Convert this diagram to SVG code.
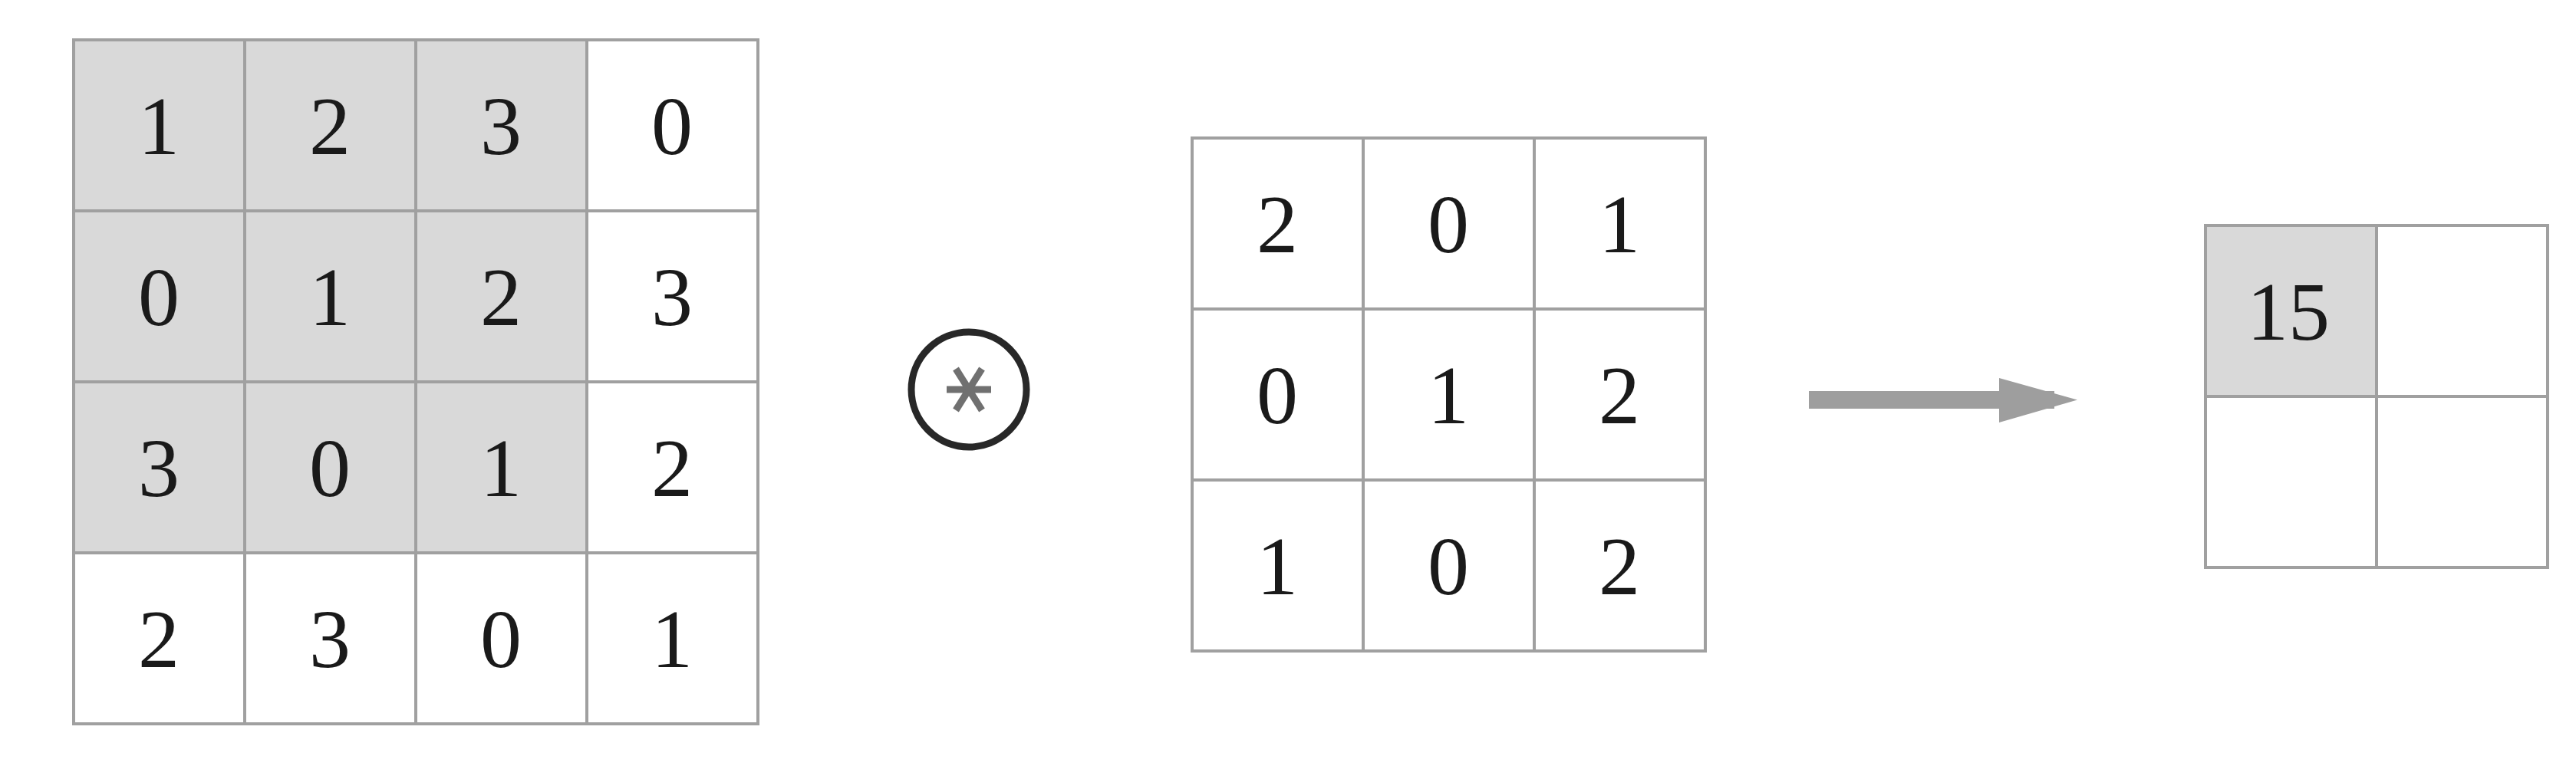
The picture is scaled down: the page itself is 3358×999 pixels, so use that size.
<svg xmlns="http://www.w3.org/2000/svg" width="3358" height="999" viewBox="0 0 3358 999">
<style>
.cell{fill:#ffffff;stroke:#a0a0a0;stroke-width:4}
.hl{fill:#d9d9d9;stroke:#a0a0a0;stroke-width:4}
.num{font-family:"Liberation Serif","DejaVu Serif",serif;font-size:108px;fill:#1a1a1a;text-anchor:middle}
</style>
<defs>
<marker id="ah" viewBox="0 0 103 58" refX="103" refY="29" markerUnits="userSpaceOnUse" markerWidth="103" markerHeight="58" orient="auto">
<path d="M0,0 L103,29 L0,58 Z" fill="#9e9e9e"/>
</marker>
</defs>
<rect width="3358" height="999" fill="#ffffff"/>
<g id="input">
<rect class="hl" x="96" y="52" width="223" height="223"/>
<rect class="hl" x="319" y="52" width="223" height="223"/>
<rect class="hl" x="542" y="52" width="223" height="223"/>
<rect class="cell" x="765" y="52" width="223" height="223"/>
<rect class="hl" x="96" y="275" width="223" height="223"/>
<rect class="hl" x="319" y="275" width="223" height="223"/>
<rect class="hl" x="542" y="275" width="223" height="223"/>
<rect class="cell" x="765" y="275" width="223" height="223"/>
<rect class="hl" x="96" y="498" width="223" height="223"/>
<rect class="hl" x="319" y="498" width="223" height="223"/>
<rect class="hl" x="542" y="498" width="223" height="223"/>
<rect class="cell" x="765" y="498" width="223" height="223"/>
<rect class="cell" x="96" y="721" width="223" height="223"/>
<rect class="cell" x="319" y="721" width="223" height="223"/>
<rect class="cell" x="542" y="721" width="223" height="223"/>
<rect class="cell" x="765" y="721" width="223" height="223"/>
<text class="num" x="207" y="201">1</text>
<text class="num" x="430" y="201">2</text>
<text class="num" x="653" y="201">3</text>
<text class="num" x="876" y="201">0</text>
<text class="num" x="207" y="424">0</text>
<text class="num" x="430" y="424">1</text>
<text class="num" x="653" y="424">2</text>
<text class="num" x="876" y="424">3</text>
<text class="num" x="207" y="647">3</text>
<text class="num" x="430" y="647">0</text>
<text class="num" x="653" y="647">1</text>
<text class="num" x="876" y="647">2</text>
<text class="num" x="207" y="870">2</text>
<text class="num" x="430" y="870">3</text>
<text class="num" x="653" y="870">0</text>
<text class="num" x="876" y="870">1</text>
</g>
<g id="operator">
<circle cx="1263" cy="508" r="75" fill="#ffffff" stroke="#282828" stroke-width="9"/>
<g stroke="#707070" stroke-width="9">
<line x1="1234" y1="508" x2="1292" y2="508"/>
<line x1="1246" y1="481" x2="1280" y2="535"/>
<line x1="1280" y1="481" x2="1246" y2="535"/>
</g>
</g>
<g id="kernel">
<rect class="cell" x="1554" y="180" width="223" height="223"/>
<rect class="cell" x="1777" y="180" width="223" height="223"/>
<rect class="cell" x="2000" y="180" width="223" height="223"/>
<rect class="cell" x="1554" y="403" width="223" height="223"/>
<rect class="cell" x="1777" y="403" width="223" height="223"/>
<rect class="cell" x="2000" y="403" width="223" height="223"/>
<rect class="cell" x="1554" y="626" width="223" height="223"/>
<rect class="cell" x="1777" y="626" width="223" height="223"/>
<rect class="cell" x="2000" y="626" width="223" height="223"/>
<text class="num" x="1665" y="329">2</text>
<text class="num" x="1888" y="329">0</text>
<text class="num" x="2111" y="329">1</text>
<text class="num" x="1665" y="552">0</text>
<text class="num" x="1888" y="552">1</text>
<text class="num" x="2111" y="552">2</text>
<text class="num" x="1665" y="775">1</text>
<text class="num" x="1888" y="775">0</text>
<text class="num" x="2111" y="775">2</text>
</g>
<g id="connectors">
<line x1="2358" y1="521.5" x2="2678" y2="521.5" stroke="#9e9e9e" stroke-width="23"/>
<path d="M2606,493 L2708,521.5 L2606,551 Z" fill="#9e9e9e"/>
</g>
<g id="output">
<rect class="hl" x="2875" y="294" width="223" height="223"/>
<rect class="cell" x="3098" y="294" width="223" height="223"/>
<rect class="cell" x="2875" y="517" width="223" height="223"/>
<rect class="cell" x="3098" y="517" width="223" height="223"/>
<text class="num" x="2983" y="443">15</text>
</g>
</svg>
